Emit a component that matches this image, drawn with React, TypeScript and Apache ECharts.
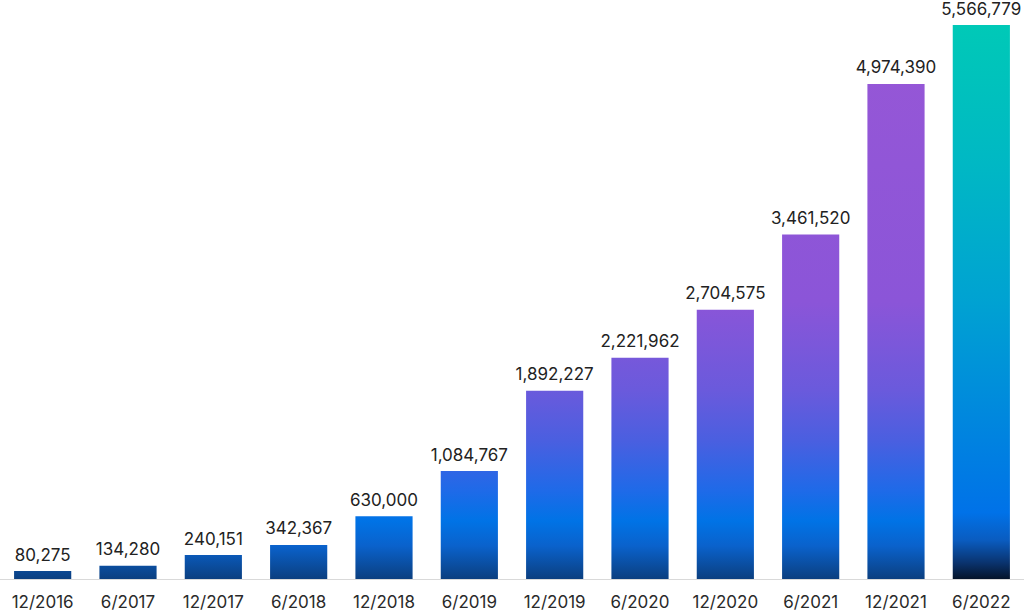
import React, { useEffect, useRef } from "react";
import * as echarts from "echarts";

const categories = [
  "12/2016", "6/2017", "12/2017", "6/2018", "12/2018", "6/2019",
  "12/2019", "6/2020", "12/2020", "6/2021", "12/2021", "6/2022",
];
const values = [
  80275, 134280, 240151, 342367, 630000, 1084767,
  1892227, 2221962, 2704575, 3461520, 4974390, 5566779,
];

const FONT = "Inter, 'Noto Sans', sans-serif";

export default function App() {
  const ref = useRef<HTMLDivElement>(null);
  useEffect(() => {
    if (!ref.current) return;
    const chart = echarts.init(ref.current, undefined, { renderer: "svg" });
    const gridTop = 25;
    const gridBottomY = 579;
    const mainGradient = {
      type: "linear",
      x: 0, y: gridTop, x2: 0, y2: gridBottomY,
      global: true,
      colorStops: [
        { offset: 0, color: "#9757d6" },
        { offset: 0.5, color: "#8b55d8" },
        { offset: 0.66, color: "#6a5adc" },
        { offset: 0.75, color: "#4a5fe0" },
        { offset: 0.84, color: "#1f6ae8" },
        { offset: 0.895, color: "#0073e6" },
        { offset: 0.94, color: "#0a62cc" },
        { offset: 1, color: "#0b3f80" },
      ],
    };
    const lastGradient = {
      type: "linear",
      x: 0, y: gridTop, x2: 0, y2: gridBottomY,
      global: true,
      colorStops: [
        { offset: 0, color: "#00c9b7" },
        { offset: 0.25, color: "#00b8c4" },
        { offset: 0.5, color: "#00a2d2" },
        { offset: 0.75, color: "#0082e0" },
        { offset: 0.88, color: "#0072e8" },
        { offset: 0.93, color: "#0a5cc0" },
        { offset: 0.97, color: "#0a3470" },
        { offset: 1, color: "#05142a" },
      ],
    };
    const data = values.map((v, i) => ({
      value: v,
      itemStyle: { color: i === values.length - 1 ? lastGradient : mainGradient },
    }));
    chart.setOption({
      animation: false,
      grid: { left: 0, right: 0, top: gridTop, bottom: 611 - gridBottomY, containLabel: false },
      xAxis: {
        type: "category",
        data: categories,
        axisLine: { show: true, lineStyle: { color: "#d9d9d9", width: 1 } },
        axisTick: { show: false },
        axisLabel: { color: "#2a2a2a", fontSize: 17, fontFamily: FONT, margin: 14, interval: 0 },
      },
      yAxis: {
        type: "value",
        min: 0,
        max: (v: { max: number }) => v.max,
        show: false,
        splitLine: { show: false },
      },
      series: [
        {
          type: "bar",
          data,
          barCategoryGap: "33%",
          label: {
            show: true,
            position: "top",
            distance: 8,
            color: "#222222",
            fontSize: 17,
            fontFamily: FONT,
            formatter: (p: { value: number }) => p.value.toLocaleString("en-US"),
          },
        },
      ],
    });
    return () => chart.dispose();
  }, []);
  return (
    <div
      ref={ref}
      style={{ position: "fixed", left: 0, top: 0, width: 1024, height: 611, background: "#fff" }}
    />
  );
}
